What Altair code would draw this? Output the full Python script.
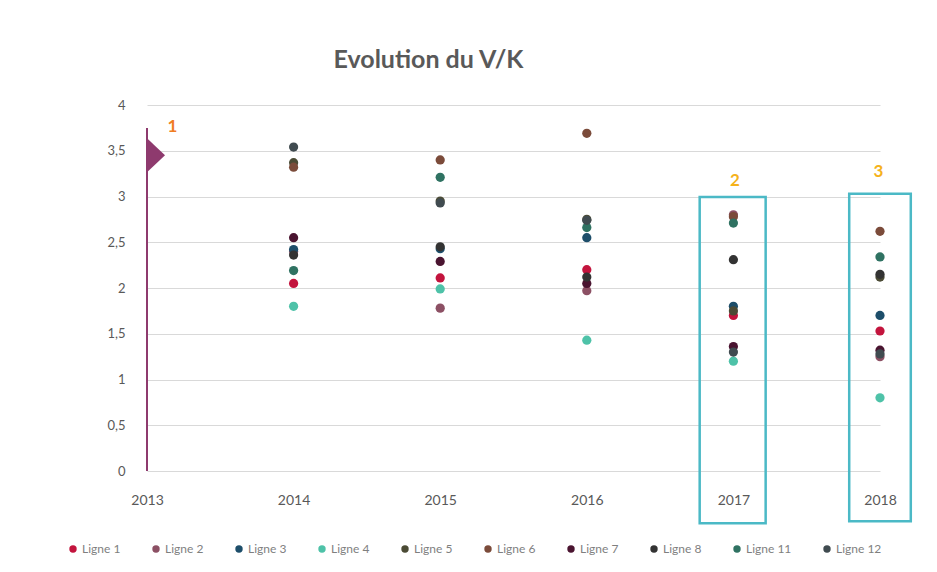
import altair as alt
import pandas as pd

# ---------------- data ----------------
years = [2014, 2015, 2016, 2017, 2018]
series = ["Ligne 1", "Ligne 2", "Ligne 3", "Ligne 4", "Ligne 5",
          "Ligne 6", "Ligne 7", "Ligne 8", "Ligne 11", "Ligne 12"]
colors = ["#C3143D", "#8C5064", "#1D4E6A", "#4EC2A8", "#4B4B35",
          "#7B4B3A", "#4A1430", "#333333", "#2F7262", "#404B50"]

ligne1 = [2.05, 2.11, 2.20, 1.70, 1.53]
ligne2 = [2.40, 1.78, 1.97, 2.80, 1.25]
ligne3 = [2.42, 2.43, 2.55, 1.80, 1.70]
ligne4 = [1.80, 1.99, 1.43, 1.20, 0.80]
ligne5 = [3.37, 2.95, 2.75, 1.75, 2.12]
ligne6 = [3.32, 3.40, 3.69, 2.78, 2.62]
ligne7 = [2.55, 2.29, 2.05, 1.36, 1.32]
ligne8 = [2.36, 2.45, 2.12, 2.31, 2.15]
ligne11 = [2.19, 3.21, 2.66, 2.71, 2.34]
ligne12 = [3.54, 2.93, 2.74, 1.30, 1.28]
values = [ligne1, ligne2, ligne3, ligne4, ligne5,
          ligne6, ligne7, ligne8, ligne11, ligne12]

y_ticks = [0, 0.5, 1, 1.5, 2, 2.5, 3, 3.5, 4]
x_ticks = [2013, 2014, 2015, 2016, 2017, 2018]

# annotations
arrow_line = {"x": [2013], "y": [0], "y2": [3.75]}
arrow_head = {"x": [2013], "y": [3.45]}
label1 = {"x": [2013.14], "y": [3.76], "t": ["1"]}
boxes = {"x": [2016.77, 2017.79], "x2": [2017.22, 2018.21],
         "y": [2.995, 3.03], "y2": [-0.57, -0.55]}
box_labels = {"x": [2017.01, 2017.99], "y": [3.17, 3.27], "t": ["2", "3"]}

# ---------------- build ----------------
rows = []
for name, vals in zip(series, values):
    for yr, v in zip(years, vals):
        rows.append({"Année": yr, "V/K": v, "Série": name})
df = pd.DataFrame(rows)

FONT = "Lato"
GREY = "#595959"

xscale = alt.Scale(domain=[2013, 2018], nice=False, zero=False)
yscale = alt.Scale(domain=[0, 4], nice=False, zero=False)

points = alt.Chart(df).mark_circle(size=85, opacity=1).encode(
    x=alt.X("Année:Q", scale=xscale,
            axis=alt.Axis(values=x_ticks, format="d", title=None, grid=False,
                          domain=False, ticks=False, labelPadding=22,
                          labelFlush=False,
                          labelFontSize=14, labelColor=GREY, labelFont=FONT)),
    y=alt.Y("V/K:Q", scale=yscale,
            axis=alt.Axis(values=y_ticks, title=None, domain=False, ticks=False,
                          labelPadding=22, labelFontSize=13, labelColor=GREY,
                          labelFont=FONT, gridColor="#D9D9D9", gridWidth=1,
                          labelExpr="replace(format(datum.value, '~g'), '.', ',')")),
    color=alt.Color("Série:N",
                    scale=alt.Scale(domain=series, range=colors),
                    legend=alt.Legend(orient="none", direction="horizontal",
                                      columns=10, legendX=-80, legendY=438,
                                      title=None, symbolType="circle",
                                      symbolSize=55, symbolStrokeWidth=0,
                                      labelFont=FONT, labelFontSize=12,
                                      labelColor="#7F7F7F", labelOffset=3,
                                      columnPadding=29)),
)

rule = alt.Chart(pd.DataFrame(arrow_line)).mark_rule(
    color="#8E3A6E", strokeWidth=2).encode(
    x="x:Q", y="y:Q", y2="y2:Q")

head = alt.Chart(pd.DataFrame(arrow_head)).mark_point(
    shape="M0,-1L1.06,0L0,1Z", filled=True, opacity=1, size=1156,
    color="#8E3A6E").encode(x="x:Q", y="y:Q")

t1 = alt.Chart(pd.DataFrame(label1)).mark_text(
    font=FONT, fontSize=17, fontWeight="bold", color="#F07D22",
    align="left", baseline="middle").encode(x="x:Q", y="y:Q", text="t:N")

rects = alt.Chart(pd.DataFrame(boxes)).mark_rect(
    fillOpacity=0, stroke="#4BB9C6", strokeWidth=2.5).encode(
    x="x:Q", x2="x2:Q", y="y:Q", y2="y2:Q")

t23 = alt.Chart(pd.DataFrame(box_labels)).mark_text(
    font=FONT, fontSize=17, fontWeight="bold", color="#F5B21B",
    align="center", baseline="middle").encode(x="x:Q", y="y:Q", text="t:N")

chart = alt.layer(points, rule, head, t1, rects, t23).properties(
    width=733, height=366,
    title=alt.TitleParams("Evolution du V/K", font=FONT, fontSize=25,
                          fontWeight="bold", color=GREY, anchor="middle",
                          frame="group", dx=-85, offset=26),
    autosize=alt.AutoSizeParams(type="none"),
    padding={"left": 139, "top": 97, "right": 45, "bottom": 85},
    background="white",
).configure_view(stroke=None)

chart.save("out.html", embed_options={"renderer": "svg", "actions": False})
